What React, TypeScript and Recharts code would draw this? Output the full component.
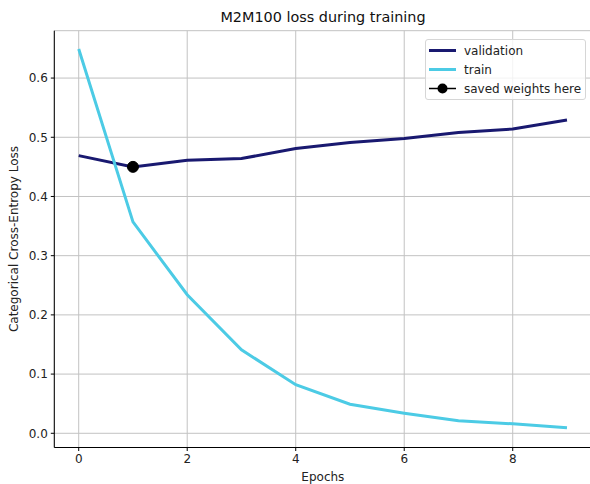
import { LineChart, Line, XAxis, YAxis, CartesianGrid, Label } from 'recharts';

const epochs = [0, 1, 2, 3, 4, 5, 6, 7, 8, 9];
const validationLoss = [0.469, 0.45, 0.461, 0.464, 0.481, 0.491, 0.498, 0.508, 0.514, 0.529];
const trainLoss = [0.649, 0.357, 0.234, 0.141, 0.082, 0.049, 0.034, 0.021, 0.016, 0.0095];
const savedEpoch = 1;
const xTicks = [0, 2, 4, 6, 8];
const yTicks = [0, 0.1, 0.2, 0.3, 0.4, 0.5, 0.6];

const data = epochs.map((epoch, i) => ({
  epoch,
  validation: validationLoss[i],
  train: trainLoss[i],
}));
const savedData = [{ epoch: savedEpoch, saved: validationLoss[savedEpoch] }];

const FONT = '"DejaVu Sans", sans-serif';
const NAVY = '#191970';
const CYAN = '#4ccbe5';

const legendItems = [
  { label: 'validation', color: NAVY, dot: false },
  { label: 'train', color: CYAN, dot: false },
  { label: 'saved weights here', color: '#000', dot: true },
];

function LegendBox() {
  return (
    <div
      style={{
        position: 'absolute',
        left: 425,
        top: 39,
        background: 'rgba(255,255,255,0.8)',
        border: '1px solid #d6d6d6',
        borderRadius: 3,
        padding: '1px 4px 1px 3px',
        fontFamily: FONT,
        fontSize: 12,
        color: '#222',
      }}
    >
      {legendItems.map((it) => (
        <div key={it.label} style={{ display: 'flex', alignItems: 'center', height: 19 }}>
          <svg width={35} height={19}>
            <line x1={0} x2={27} y1={9.5} y2={9.5} stroke={it.color} strokeWidth={it.dot ? 1.5 : 3} />
            {it.dot && <circle cx={13.5} cy={9.5} r={5} fill="#000" />}
          </svg>
          <span>{it.label}</span>
        </div>
      ))}
    </div>
  );
}

export default function App() {
  return (
    <div style={{ position: 'absolute', left: 0, top: 0, width: 590, height: 484, overflow: 'hidden', background: '#fff' }}>
      <div
        style={{
          position: 'absolute',
          left: 0,
          top: 8,
          width: 646,
          textAlign: 'center',
          fontFamily: FONT,
          fontSize: 14.4,
          color: '#111',
          lineHeight: '18px',
        }}
      >
        M2M100 loss during training
      </div>
      <LineChart
        width={600}
        height={484}
        data={data}
        margin={{ top: 30.7, right: 8.6, bottom: 0, left: 0 }}
        style={{ fontFamily: FONT }}
      >
        <CartesianGrid stroke="#c2c2c2" strokeWidth={1} />
        <XAxis
          dataKey="epoch"
          type="number"
          domain={[-0.45, 9.45]}
          ticks={xTicks}
          height={36.5}
          stroke="#000"
          tickSize={3.5}
          tickMargin={3}
          tick={{ fill: '#222', fontSize: 12 }}
          allowDataOverflow
        >
          <Label value="Epochs" position="insideBottom" offset={3.5} fill="#222" fontSize={12} />
        </XAxis>
        <XAxis
          xAxisId="top"
          orientation="top"
          dataKey="epoch"
          type="number"
          domain={[-0.45, 9.45]}
          height={0}
          tick={false}
          tickLine={false}
          stroke="#000"
        />
        <YAxis
          type="number"
          domain={[-0.024, 0.68]}
          ticks={yTicks}
          width={54.3}
          stroke="#000"
          tickSize={3.5}
          tickMargin={3}
          tick={{ fill: '#222', fontSize: 12 }}
          tickFormatter={(v: number) => v.toFixed(1)}
          allowDataOverflow
        >
          <Label
            content={() => (
              <text
                x={0}
                y={0}
                transform="translate(18,239) rotate(-90)"
                textAnchor="middle"
                fontSize={12}
                fill="#222"
                fontFamily={FONT}
              >
                Categorical Cross-Entropy Loss
              </text>
            )}
          />
        </YAxis>
        <Line
          dataKey="validation"
          stroke={NAVY}
          strokeWidth={3}
          dot={false}
          isAnimationActive={false}
        />
        <Line
          dataKey="train"
          stroke={CYAN}
          strokeWidth={3}
          dot={false}
          isAnimationActive={false}
        />
        <Line
          data={savedData}
          dataKey="saved"
          stroke="#000"
          dot={{ r: 5.5, fill: '#000', stroke: '#000' }}
          isAnimationActive={false}
        />
      </LineChart>
      <LegendBox />
    </div>
  );
}
